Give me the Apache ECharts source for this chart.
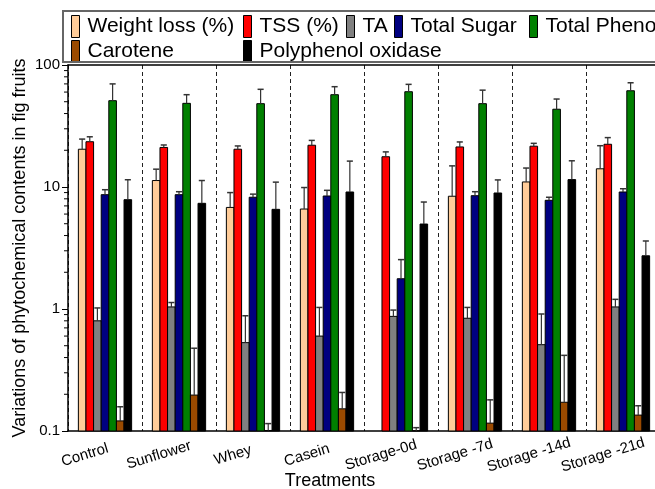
<!DOCTYPE html>
<html>
<head>
<meta charset="utf-8">
<script src="https://cdn.jsdelivr.net/npm/echarts@6/dist/echarts.min.js"></script>
<style>
html,body{margin:0;padding:0;background:#fff;}
#c{width:655px;height:489px;}
</style>
</head>
<body>
<div id="c"></div>
<script>
const categories = ['Control', 'Sunflower', 'Whey', 'Casein', 'Storage-0d', 'Storage -7d', 'Storage -14d', 'Storage -21d'];
const yTickLabels = ['0.1', '1', '10', '100'];
const yMinorTicks = [0.2,0.3,0.4,0.5,0.6,0.7,0.8,0.9, 2,3,4,5,6,7,8,9, 20,30,40,50,60,70,80,90];

const seriesNames = ['Weight loss (%)', 'TSS (%)', 'TA', 'Total Sugar', 'Total Phenol', 'Carotene', 'Polyphenol oxidase'];
const seriesColors = ['#FFCC99', '#FF0000', '#808080', '#000080', '#008000', '#9A4A00', '#000000'];

const weightLoss    = [20.4, 11.3, 6.8, 6.6, null, 8.4, 11.0, 14.1];
const weightLossErr = [4.3, 2.7, 2.2, 3.3, null, 6.5, 3.3, 7.7];
const tss           = [23.5, 21.1, 20.4, 22.0, 17.7, 21.3, 21.6, 22.4];
const tssErr        = [2.3, 1.0, 1.3, 2.1, 1.7, 2.1, 1.2, 3.0];
const ta            = [0.80, 1.04, 0.53, 0.60, 0.87, 0.84, 0.51, 1.04];
const taErr         = [0.22, 0.09, 0.35, 0.43, 0.11, 0.19, 0.40, 0.16];
const totalSugar    = [8.65, 8.65, 8.24, 8.44, 1.77, 8.49, 7.78, 9.1];
const totalSugarErr = [0.85, 0.5, 0.5, 0.95, 0.77, 0.66, 0.46, 0.58];
const totalPhenol   = [51, 48.5, 48.2, 57.1, 60.4, 48.2, 43.4, 61.5];
const totalPhenolErr= [19, 8.6, 15, 9.3, 9, 14, 9.2, 10];
const carotene      = [0.121, 0.197, 0.101, 0.152, 0.1005, 0.116, 0.172, 0.135];
const caroteneErr   = [0.037, 0.28, 0.014, 0.055, 0.006, 0.064, 0.245, 0.026];
const ppo           = [7.87, 7.35, 6.56, 9.1, 4.97, 8.93, 11.5, 2.73];
const ppoErr        = [3.6, 3.95, 4.4, 7.2, 2.56, 2.5, 4.9, 0.88];

const seriesValues = [weightLoss, tss, ta, totalSugar, totalPhenol, carotene, ppo];
const seriesErrors = [weightLossErr, tssErr, taErr, totalSugarErr, totalPhenolErr, caroteneErr, ppoErr];

const BAR_CAT_GAP = 0.28;
const FONT = '"Liberation Sans", Arial, sans-serif';

function barGeom(params, ci, si) {
  const catW = params.coordSys.width / categories.length;
  const n = seriesNames.length;
  const bw = catW * (1 - BAR_CAT_GAP) / n;
  const catCenter = params.coordSys.x + catW * (ci + 0.5);
  return { bw: bw, cx: catCenter + (si - (n - 1) / 2) * bw };
}

const barSeries = seriesNames.map((name, si) => ({
  name: name,
  type: 'custom',
  z: 3,
  clip: false,
  encode: { x: 0, y: 1 },
  itemStyle: { color: seriesColors[si], borderColor: '#000', borderWidth: 1 },
  data: seriesValues[si].map((v, ci) => v == null ? null : [ci, v]).filter(d => d),
  renderItem: function (params, api) {
    const ci = api.value(0), v = api.value(1);
    const g = barGeom(params, ci, si);
    const top = api.coord([ci, v])[1];
    const bottom = params.coordSys.y + params.coordSys.height;
    return {
      type: 'rect',
      shape: { x: g.cx - g.bw / 2, y: top, width: g.bw, height: bottom - top },
      style: { fill: seriesColors[si], stroke: '#000', lineWidth: 1 }
    };
  }
}));

const errData = [];
seriesValues.forEach((arr, si) => {
  arr.forEach((v, ci) => {
    if (v != null) errData.push([ci, si, v, seriesErrors[si][ci]]);
  });
});

const errSeries = {
  type: 'custom',
  name: 'err',
  z: 4,
  clip: false,
  encode: { x: 0, y: 2 },
  data: errData,
  renderItem: function (params, api) {
    const ci = api.value(0), si = api.value(1), v = api.value(2), e = api.value(3);
    const g = barGeom(params, ci, si);
    const yb = api.coord([ci, v])[1];
    const yt = api.coord([ci, v + e])[1];
    const hw = g.bw * 0.4;
    return {
      type: 'group',
      children: [
        { type: 'line', shape: { x1: g.cx, y1: yb, x2: g.cx, y2: yt }, style: { stroke: '#333', lineWidth: 1.2 } },
        { type: 'line', shape: { x1: g.cx - hw, y1: yt, x2: g.cx + hw, y2: yt }, style: { stroke: '#333', lineWidth: 1.5 } }
      ]
    };
  }
};

const minorSeries = {
  type: 'custom',
  name: 'minor',
  z: 5,
  clip: false,
  silent: true,
  encode: { x: 0, y: 1 },
  data: yMinorTicks.map(v => [0, v]),
  renderItem: function (params, api) {
    const y = api.coord([0, api.value(1)])[1];
    const x0 = params.coordSys.x;
    return { type: 'line', shape: { x1: x0 - 4, y1: y, x2: x0, y2: y }, style: { stroke: '#000', lineWidth: 1 } };
  }
};

const legendText = { fontFamily: FONT, fontSize: 21, color: '#000', padding: [0, 0, 0, 3] };
const legendPos = [[66, 10], [238, 10], [341, 10], [389, 10], [524, 10], [66, 35], [238, 35]];
const legends = seriesNames.map((name, i) => ({
  left: legendPos[i][0], top: legendPos[i][1],
  orient: 'horizontal', itemWidth: 8, itemHeight: 22, itemGap: 5,
  icon: 'rect', selectedMode: false, textStyle: legendText,
  data: [{ name: name, itemStyle: { color: seriesColors[i], borderColor: '#000', borderWidth: 1 } }]
}));

const option = {
  animation: false,
  backgroundColor: '#fff',
  textStyle: { fontFamily: FONT },
  legend: legends,
  graphic: [
    { type: 'rect', shape: { x: 63, y: 11, width: 620, height: 51 }, style: { fill: 'none', stroke: '#666', lineWidth: 2 }, z: 10 }
  ],
  grid: { left: 68, top: 65, width: 592, height: 366, containLabel: false, outerBoundsMode: 'none' },
  xAxis: [
    {
      type: 'category',
      data: categories,
      position: 'bottom',
      axisLine: { lineStyle: { color: '#000', width: 1.5 } },
      axisTick: { alignWithLabel: true, length: 5, lineStyle: { color: '#000' } },
      axisLabel: {
        rotate: 17, fontSize: 15, color: '#000', fontFamily: FONT, margin: 18, interval: 0,
        align: 'center', verticalAlign: 'middle', padding: [0, 42, 0, 0]
      },
      splitLine: { show: true, lineStyle: { color: '#222', type: [4, 3], width: 1 } },
      name: 'Treatments',
      nameLocation: 'middle',
      nameGap: 41,
      nameMoveOverlap: false,
      nameTextStyle: { fontSize: 18, color: '#000', fontFamily: FONT, padding: [0, 68, 0, 0] }
    },
    {
      type: 'category',
      data: categories,
      position: 'top',
      axisLine: { lineStyle: { color: '#000', width: 1.5 } },
      axisTick: { inside: true, length: 5, lineStyle: { color: '#000' } },
      axisLabel: { show: false },
      splitLine: { show: false }
    }
  ],
  yAxis: {
    type: 'log',
    logBase: 10,
    min: 0.1,
    max: 100,
    axisLine: { show: true, lineStyle: { color: '#000', width: 1.5 } },
    axisTick: { show: true, length: 6, lineStyle: { color: '#000' } },
    axisLabel: {
      fontSize: 15, color: '#000', fontFamily: FONT, margin: 8,
      formatter: function (v) {
        const s = String(+Number(v).toPrecision(3));
        return yTickLabels.indexOf(s) >= 0 ? s : '';
      }
    },
    splitLine: { show: false },
    name: 'Variations of phytochemical contents in fig fruits',
    nameLocation: 'middle',
    nameGap: 39,
    nameRotate: 90,
    nameMoveOverlap: false,
    nameTextStyle: { fontSize: 18, color: '#000', fontFamily: FONT }
  },
  series: barSeries.concat([errSeries, minorSeries])
};

const chart = echarts.init(document.getElementById('c'), null, { renderer: 'canvas' });
chart.setOption(option);
</script>
</body>
</html>
